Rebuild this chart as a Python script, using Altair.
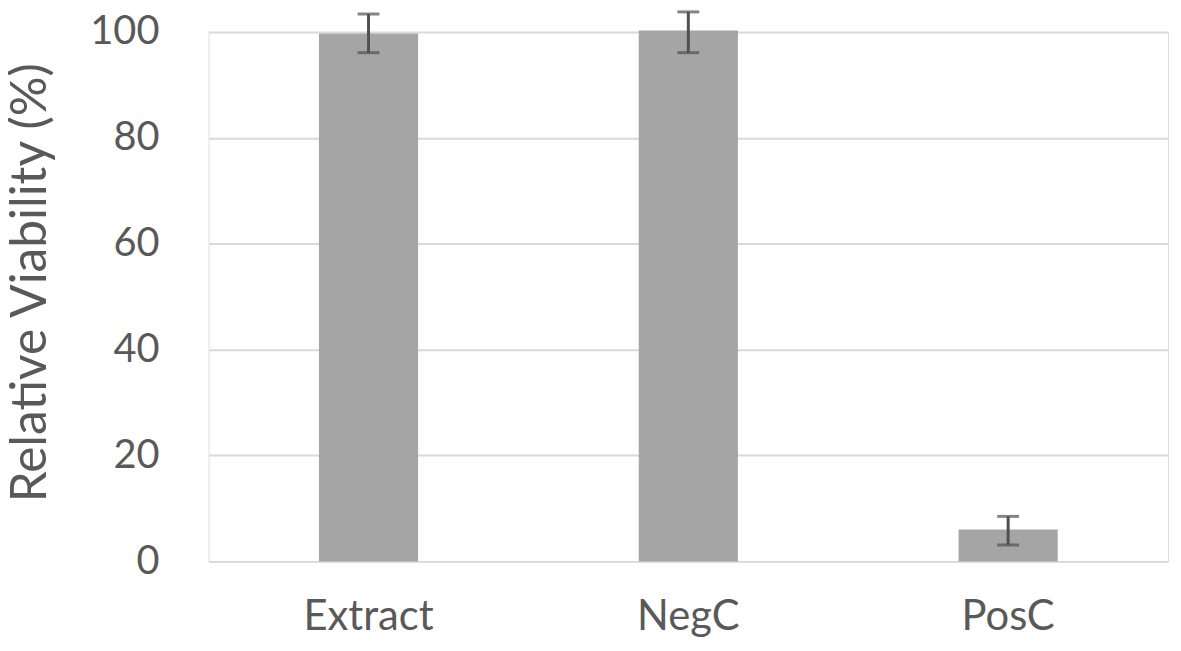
import altair as alt
import pandas as pd

categories = ["Extract", "NegC", "PosC"]
values = [99.7, 100.3, 6.0]
err_low = [96.1, 96.1, 3.1]
err_high = [103.4, 103.8, 8.5]

df = pd.DataFrame({"cat": categories, "val": values, "lo": err_low, "hi": err_high})

FONT = "Lato"
xenc = alt.X("cat:N", sort=categories,
             scale=alt.Scale(paddingInner=0.69, paddingOuter=0.345),
             axis=alt.Axis(title=None, labelAngle=0, domain=False, ticks=False,
                           labelPadding=36, labelFontSize=42, labelFont=FONT,
                           labelColor="#595959"))

bars = alt.Chart(df).mark_bar(color="#a5a5a5").encode(
    x=xenc,
    y=alt.Y("val:Q", scale=alt.Scale(domain=[0, 100], nice=False),
            axis=alt.Axis(values=[0, 20, 40, 60, 80, 100], domain=False, ticks=False,
                          grid=True, gridColor="#d9d9d9", gridWidth=2,
                          labelPadding=50, labelFontSize=40, labelFont=FONT,
                          labelColor="#595959",
                          title="Relative Viability (%)", titleFont=FONT,
                          titleFontSize=50, titleFontWeight="normal",
                          titleColor="#595959", titleX=-164, titleY=252,
                          titleAngle=-90, titleBaseline="alphabetic",
                          titleAlign="center")),
)

rules = alt.Chart(df).mark_rule(color="#505050", strokeWidth=3).encode(
    x=alt.X("cat:N", sort=categories), y="lo:Q", y2="hi:Q")
cap_lo = alt.Chart(df).mark_tick(color="#505050", size=22, thickness=3).encode(
    x=alt.X("cat:N", sort=categories), y="lo:Q")
cap_hi = alt.Chart(df).mark_tick(color="#505050", size=22, thickness=3).encode(
    x=alt.X("cat:N", sort=categories), y="hi:Q")

chart = alt.layer(bars, rules, cap_lo, cap_hi).properties(
    width=966, height=533,
    autosize=alt.AutoSizeParams(type="none"),
    padding={"left": 202, "top": 22, "right": 5, "bottom": 80},
).configure_view(stroke=None).configure(background="white")

chart.save("out.html", embed_options={"renderer": "svg", "actions": False})
